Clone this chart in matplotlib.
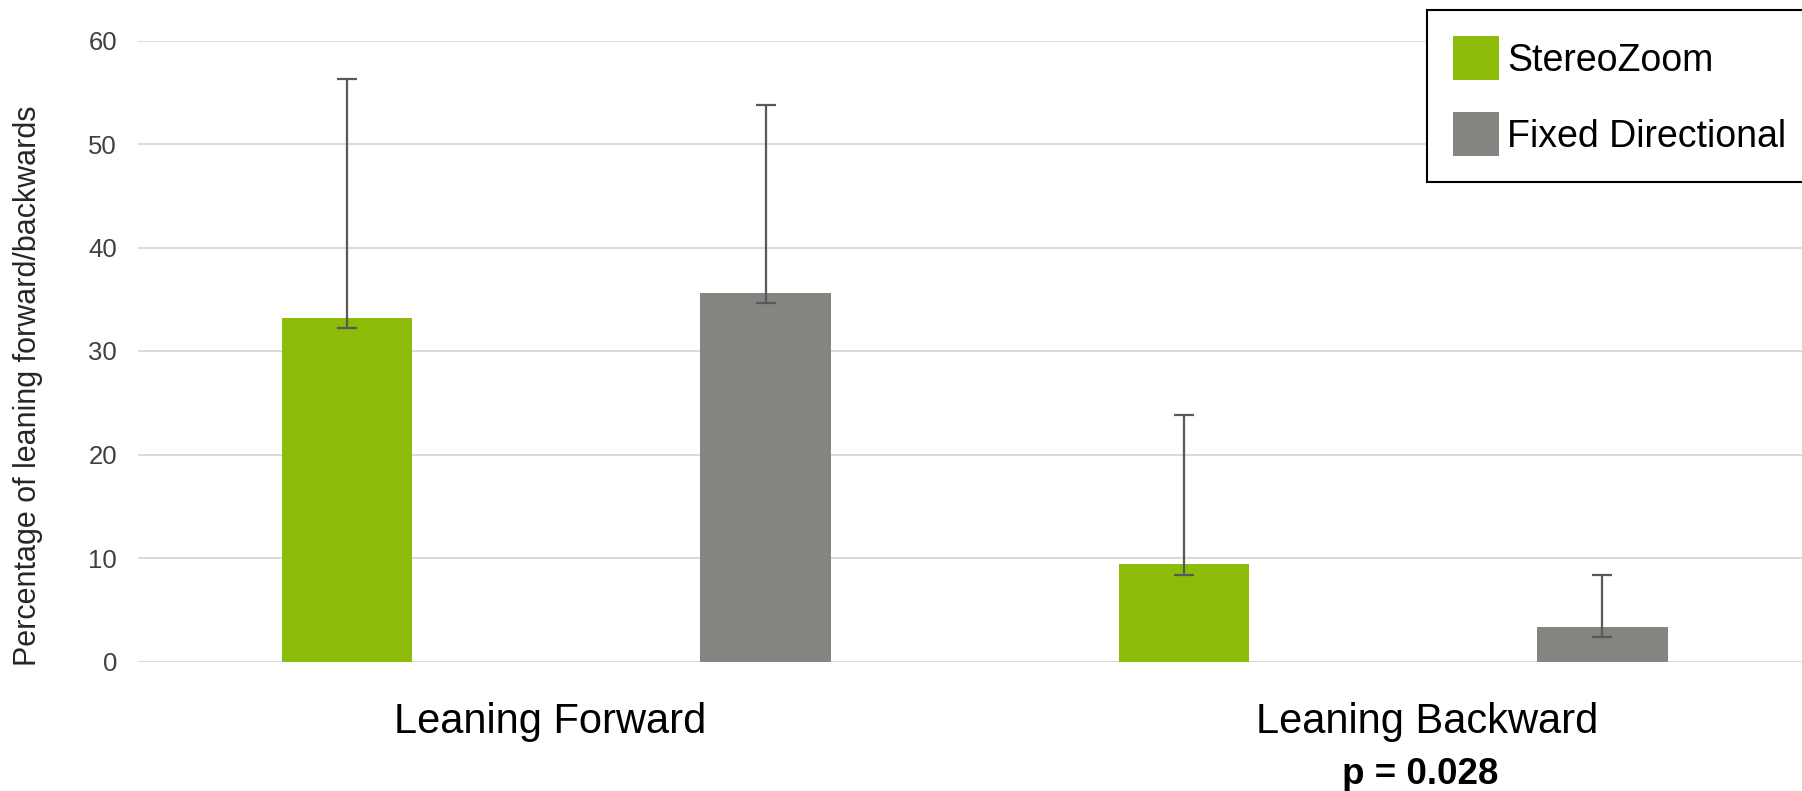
import matplotlib
matplotlib.use('Agg')
import matplotlib.pyplot as plt
import matplotlib.transforms as mtransforms
import numpy as np

plt.rcParams['font.family'] = ['Liberation Sans', 'DejaVu Sans']

# mean percentages per posture, with asymmetric error bars
categories = ['Leaning Forward', 'Leaning Backward']
series = ['StereoZoom', 'Fixed Directional']
stereozoom = [33.2, 9.4]
fixed_dir = [35.6, 3.3]
stereozoom_err_lo = [1.0, 1.0]
stereozoom_err_hi = [23.1, 14.4]
fixed_dir_err_lo = [1.0, 0.9]
fixed_dir_err_hi = [18.2, 5.1]
p_label = 'p = 0.028'
y_ticks = [0, 10, 20, 30, 40, 50, 60]

GREEN = '#8cbb0a'
GRAY = '#848581'
ERR = '#595959'

W, H = 1802, 791
fig = plt.figure(figsize=(W / 100, H / 100), dpi=100)
ax = fig.add_axes([138 / W, 1 - 661.5 / H, 1 - 138 / W, (661.5 - 40.5) / H])

x = np.arange(len(categories))
width = 0.156
off = 0.25

err_kw = dict(ecolor=ERR, elinewidth=1.6, capsize=7, capthick=1.6)
b1 = ax.bar(x - off, stereozoom, width, color=GREEN, label=series[0], zorder=3,
            yerr=[stereozoom_err_lo, stereozoom_err_hi], error_kw=err_kw)
b2 = ax.bar(x + off, fixed_dir, width, color=GRAY, label=series[1], zorder=3,
            yerr=[fixed_dir_err_lo, fixed_dir_err_hi], error_kw=err_kw)

ax.set_xlim(-0.5, (W - 556.8) / 836.5)
ax.set_ylim(0, 60)
ax.set_yticks(y_ticks)
ax.set_xticks([])
ax.tick_params(axis='y', length=0, pad=15, labelsize=18.5, labelcolor='#404040')
ax.yaxis.grid(True, color='#d9d9d9', linewidth=1.4, zorder=0)
ax.set_axisbelow(True)
for s in ax.spines.values():
    s.set_visible(False)

ax.set_ylabel('Percentage of leaning forward/backwards', fontsize=22, color='#262626')
ax.yaxis.set_label_coords((43 - 138) / (W - 138), (661.5 - 386) / 621)

# category names under the groups, p value under the second one
trans = mtransforms.blended_transform_factory(ax.transData, fig.transFigure)
label_x = [-0.0075, 1.040]
for cx, name in zip(label_x, categories):
    ax.text(cx, 1 - 732.7 / H, name, transform=trans, ha='center', va='baseline',
            fontsize=30, color='black')
ax.text(1.032, 1 - 784 / H, p_label, transform=trans, ha='center', va='baseline',
        fontsize=26.5, fontweight='bold', color='black')

leg = fig.legend(handles=[b1, b2], loc='upper left',
                 bbox_to_anchor=(1426.7 / W, 0, 440 / W, 1 - 10 / H),
                 mode='expand', borderaxespad=0, fontsize=27,
                 handlelength=1.23, handleheight=1.43, handletextpad=0.22,
                 labelspacing=0.85, borderpad=0.7, fancybox=False,
                 edgecolor='black', framealpha=1)
leg.get_frame().set_linewidth(1.5)

plt.savefig('out.png', dpi=100)
